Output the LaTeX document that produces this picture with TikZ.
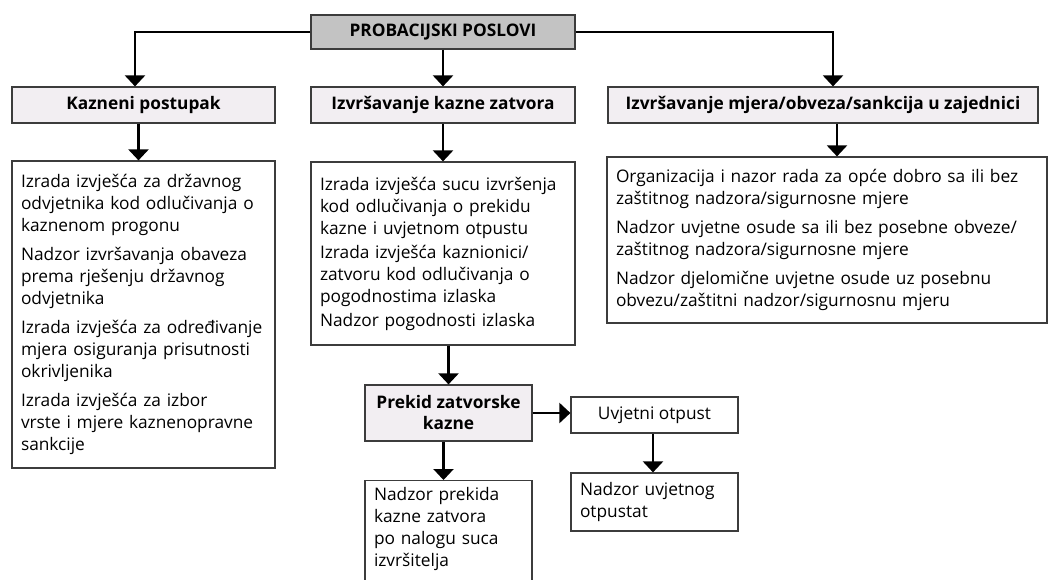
\documentclass[tikz,border=0pt]{standalone}
\usepackage{fontspec}
\setmainfont{Open Sans}
\usetikzlibrary{arrows.meta}

\definecolor{topgray}{RGB}{195,195,195}
\definecolor{headfill}{RGB}{242,238,242}
\definecolor{boxline}{RGB}{60,60,60}

\newcommand{\paragap}{\\[7pt]}
\newcommand{\smallgap}{\\[2pt]}

\tikzset{
  box/.style={draw=boxline, line width=1.2pt, fill=white, inner xsep=9pt, inner ysep=0pt,
    align=left, font=\fontsize{17.3}{22}\selectfont},
  headbox/.style={box, fill=headfill, align=center, font=\fontsize{17.3}{21}\selectfont\bfseries},
  topbox/.style={headbox, fill=topgray},
  arr/.style={line width=2.2pt, -{Triangle[width=20pt,length=11pt]}},
}

\begin{document}
\begin{tikzpicture}[x=1pt, y=-1pt]
  \useasboundingbox (0,0) rectangle (1049,579);
  \clip (0,0) rectangle (1049,579);

  % Nodes
  \node[topbox, minimum width=264pt, minimum height=34pt] at (443, 32) (probacija) {PROBACIJSKI POSLOVI};

  \node[headbox, minimum width=263pt, minimum height=36pt] at (143.5, 105) (kazneni) {Kazneni postupak};
  \node[headbox, minimum width=264pt, minimum height=36pt] at (443, 105) (zatvor) {Izvršavanje kazne zatvora};
  \node[headbox, minimum width=430pt, minimum height=36pt] at (823, 105) (zajednica) {Izvršavanje mjera/obveza/sankcija u zajednici};

  \node[box, text width=245pt, minimum height=307pt] at (143.5, 314.5) (kazneniposlovi) {Izrada izvješća za državnog\\odvjetnika kod odlučivanja o\\kaznenom progonu\paragap
    Nadzor izvršavanja obaveza\\prema rješenju državnog\\odvjetnika\paragap
    Izrada izvješća za određivanje\\mjera osiguranja prisutnosti\\okrivljenika\paragap
    Izrada izvješća za izbor\\vrste i mjere kaznenopravne\\sankcije};
  \node[box, text width=246pt, minimum height=183pt] at (443, 253.5) (zatvorposlovi) {Izrada izvješća sucu izvršenja\\kod odlučivanja o prekidu\\kazne i uvjetnom otpustu\smallgap
    Izrada izvješća kaznionici/\\zatvoru kod odlučivanja o\\pogodnostima izlaska\smallgap
    Nadzor pogodnosti izlaska};
  \node[box, text width=422pt, minimum height=166pt] at (827, 240) (zajednicaposlovi) {Organizacija i nazor rada za opće dobro sa ili bez\\zaštitnog nadzora/sigurnosne mjere\paragap
    Nadzor uvjetne osude sa ili bez posebne obveze/\\zaštitnog nadzora/sigurnosne mjere\paragap
    Nadzor djelomične uvjetne osude uz posebnu\\obvezu/zaštitni nadzor/sigurnosnu mjeru};

  \node[headbox, minimum width=167pt, minimum height=56pt] at (448.5, 413) (prekid) {Prekid zatvorske\\kazne};
  \node[box, align=center, minimum width=167pt, minimum height=36pt] at (654.5, 415) (otpust) {Uvjetni otpust};
  \node[box, text width=149pt, minimum height=58pt] at (654.5, 502) (nadzorotpusta) {Nadzor uvjetnog\\otpustat};
  \node[box, text width=149pt, anchor=north, inner ysep=7pt, text depth=110pt] at (448.5, 480) (nadzorprekida) {Nadzor prekida\\kazne zatvora\\po nalogu suca\\izvršitelja};

  % Connectors
  \draw[arr] (probacija.west) -| ([xshift=-8.5pt]kazneni.north);
  \draw[arr] (probacija.east) -| ([xshift=10pt]zajednica.north);
  \draw[arr] (probacija) -- (zatvor);

  \draw[arr] ([xshift=-5pt]kazneni.south) -- ([xshift=-5pt]kazneniposlovi.north);
  \draw[arr] (zatvor) -- (zatvorposlovi);
  \draw[arr] ([xshift=14pt]zajednica.south) -- ([xshift=10pt]zajednicaposlovi.north);

  \draw[arr] (zatvorposlovi.south -| prekid) -- (prekid);
  \draw[arr] (prekid.east) -- (prekid.east -| otpust.west);
  \draw[arr] ([xshift=-1.5pt]otpust.south) -- ([xshift=-1.5pt]nadzorotpusta.north);
  \draw[arr] ([xshift=-5pt]prekid.south) -- ([xshift=-5pt]nadzorprekida.north);
\end{tikzpicture}
\end{document}
